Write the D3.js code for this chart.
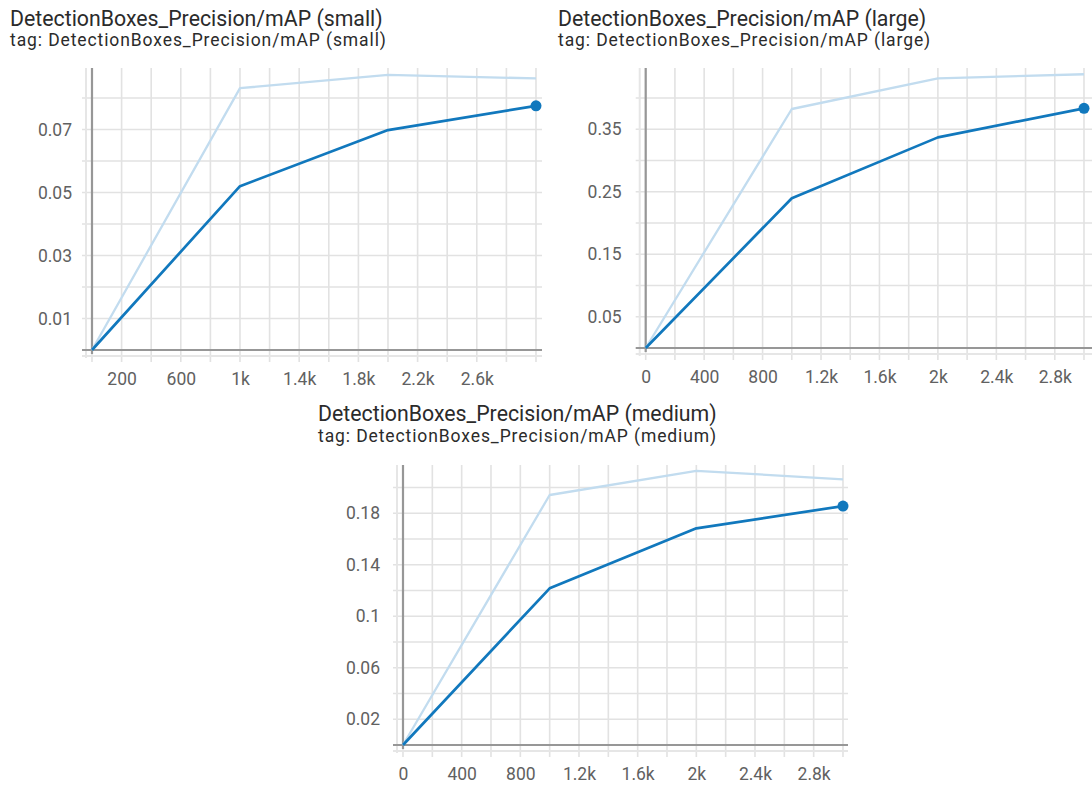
<!DOCTYPE html>
<html>
<head>
<meta charset="utf-8">
<script src="https://cdn.jsdelivr.net/npm/d3@7/dist/d3.min.js"></script>
<style>
  html, body { margin: 0; padding: 0; background: #fff; }
  svg { display: block; font-family: Roboto, "Noto Sans", sans-serif; }
</style>
</head>
<body>
<svg id="chart" width="1092" height="788"></svg>
<script>
// Training steps at which the evaluation was logged
const steps = [0, 1000, 2000, 3000];

// mAP (small objects): smoothed and raw values
const smallSmoothed = [0, 0.052, 0.0698, 0.0775];
const smallRaw      = [0, 0.0831, 0.0873, 0.0862];

// mAP (large objects)
const largeSmoothed = [0, 0.2395, 0.337, 0.3835];
const largeRaw      = [0, 0.3824, 0.4315, 0.438];

// mAP (medium objects)
const mediumSmoothed = [0, 0.1217, 0.1683, 0.1856];
const mediumRaw      = [0, 0.1942, 0.213, 0.2064];

// Tick labels shown on each card
const smallXTicks  = [200, 600, 1000, 1400, 1800, 2200, 2600];
const largeXTicks  = [0, 400, 800, 1200, 1600, 2000, 2400, 2800];
const mediumXTicks = [0, 400, 800, 1200, 1600, 2000, 2400, 2800];
const smallYTicks  = [0.01, 0.03, 0.05, 0.07];
const largeYTicks  = [0.05, 0.15, 0.25, 0.35];
const mediumYTicks = [0.02, 0.06, 0.1, 0.14, 0.18];

const titles = [
  "DetectionBoxes_Precision/mAP (small)",
  "DetectionBoxes_Precision/mAP (large)",
  "DetectionBoxes_Precision/mAP (medium)"
];

// Card layout (pixel geometry of each plot)
const cards = [
  { title: titles[0], smooth: smallSmoothed, raw: smallRaw, xTicks: smallXTicks, yTicks: smallYTicks,
    yGrid: 0.01, yMax: 0.0895, left: 92, xEnd: 536, top: 68, bottom: 350, gridRight: 542,
    labelGap: 20, titleX: 10, titleY: 26, subY: 46 },
  { title: titles[1], smooth: largeSmoothed, raw: largeRaw, xTicks: largeXTicks, yTicks: largeYTicks,
    yGrid: 0.05, yMax: 0.448, left: 645.7, xEnd: 1084, top: 68, bottom: 348, gridRight: 1092,
    labelGap: 24, titleX: 558, titleY: 26, subY: 46 },
  { title: titles[2], smooth: mediumSmoothed, raw: mediumRaw, xTicks: mediumXTicks, yTicks: mediumYTicks,
    yGrid: 0.02, yMax: 0.2175, left: 403, xEnd: 843, top: 465, bottom: 745, gridRight: 848,
    labelGap: 23, titleX: 318, titleY: 421, subY: 441.5 }
];

const BLUE = "#1178bd";
const RAW = "#c2dcef";
const GRID = "#e2e2e2";
const AXIS = "#979797";
const TICK_TEXT = "#616161";

const svg = d3.select("#chart");
const stepFormat = v => v >= 1000 ? (v / 1000) + "k" : String(v);
const valueFormat = d3.format("~g");

cards.forEach(c => {
  const g = svg.append("g");
  const x = d3.scaleLinear().domain([0, 3000]).range([c.left, c.xEnd]);
  const y = d3.scaleLinear().domain([0, c.yMax]).range([c.bottom, c.top]);

  // Titles
  g.append("text").attr("x", c.titleX).attr("y", c.titleY)
    .attr("font-size", 21.3).attr("fill", "#2b2b2b").text(c.title);
  g.append("text").attr("x", c.titleX).attr("y", c.subY)
    .attr("font-size", 17.5).attr("letter-spacing", 0.9)
    .attr("fill", "#2b2b2b").text("tag: " + c.title);

  // Vertical grid lines every 200 steps (extend below the axis as tick marks)
  const xGridVals = d3.range(0, 3001, 200);
  g.append("g").selectAll("line").data(xGridVals).join("line")
    .attr("x1", d => x(d)).attr("x2", d => x(d))
    .attr("y1", c.top).attr("y2", c.bottom + 12)
    .attr("stroke", GRID).attr("stroke-width", 1.6);

  // Horizontal grid lines (extend left of the axis as tick marks)
  const nY = Math.floor(c.yMax / c.yGrid + 1e-9);
  const yGridVals = d3.range(1, nY + 1).map(i => i * c.yGrid);
  g.append("g").selectAll("line").data(yGridVals).join("line")
    .attr("x1", c.left - 10).attr("x2", c.gridRight)
    .attr("y1", d => y(d)).attr("y2", d => y(d))
    .attr("stroke", GRID).attr("stroke-width", 1.6);

  // Soft offset edges next to the axes
  g.append("line").attr("x1", c.left - 6).attr("x2", c.left - 6)
    .attr("y1", c.top).attr("y2", c.bottom + 8)
    .attr("stroke", "#e6e6e6").attr("stroke-width", 2);
  g.append("line").attr("x1", c.left - 10).attr("x2", c.gridRight)
    .attr("y1", c.bottom + 6).attr("y2", c.bottom + 6)
    .attr("stroke", "#e6e6e6").attr("stroke-width", 2);

  // Axis lines
  g.append("line").attr("x1", c.left).attr("x2", c.left)
    .attr("y1", c.top).attr("y2", c.bottom + 4)
    .attr("stroke", AXIS).attr("stroke-width", 2.2);
  g.append("line").attr("x1", c.left - 10).attr("x2", c.gridRight)
    .attr("y1", c.bottom).attr("y2", c.bottom)
    .attr("stroke", AXIS).attr("stroke-width", 2.2);

  // Tick labels through d3 axes
  const xAxis = d3.axisBottom(x).tickValues(c.xTicks).tickFormat(stepFormat)
    .tickSize(0).tickPadding(23);
  const xa = g.append("g").attr("transform", `translate(0,${c.bottom})`).call(xAxis);
  const yAxis = d3.axisLeft(y).tickValues(c.yTicks).tickFormat(valueFormat)
    .tickSize(0).tickPadding(c.labelGap);
  const ya = g.append("g").attr("transform", `translate(${c.left},0)`).call(yAxis);
  [xa, ya].forEach(a => {
    a.select(".domain").remove();
    a.selectAll("text").attr("fill", TICK_TEXT).attr("font-size", 17.5)
      .attr("font-family", "Roboto, 'Noto Sans', sans-serif");
  });

  const line = d3.line().x((d, i) => x(steps[i])).y(d => y(d));

  // Raw series (faint) and smoothed series (solid)
  g.append("path").datum(c.raw).attr("d", line)
    .attr("fill", "none").attr("stroke", RAW).attr("stroke-width", 2.3)
    .attr("stroke-linejoin", "round");
  g.append("path").datum(c.smooth).attr("d", line)
    .attr("fill", "none").attr("stroke", BLUE).attr("stroke-width", 2.7)
    .attr("stroke-linejoin", "round");

  // Marker on the latest smoothed value
  const last = c.smooth.length - 1;
  g.append("circle").attr("cx", x(steps[last])).attr("cy", y(c.smooth[last]))
    .attr("r", 5.5).attr("fill", BLUE);
});
</script>
</body>
</html>
